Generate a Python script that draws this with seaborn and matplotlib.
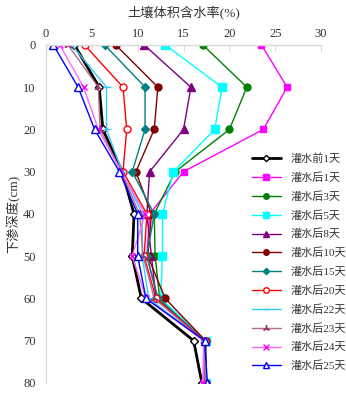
import matplotlib
matplotlib.use('Agg')
import matplotlib.pyplot as plt
import pandas as pd
import seaborn as sns

depth = [0, 10, 20, 30, 40, 50, 60, 70, 80]
labels = ['灌水前1天', '灌水后1天', '灌水后3天', '灌水后5天', '灌水后8天', '灌水后10天',
          '灌水后15天', '灌水后20天', '灌水后22天', '灌水后23天', '灌水后24天', '灌水后25天']

before_1 = [3.1, 5.8, 6.2, 8.3, 9.6, 9.4, 10.4, 16.1, 17.0]
after_1 = [23.5, 26.3, 23.7, 15.0, 11.3, 11.0, 12.2, 17.3, 17.2]
after_3 = [17.1, 21.9, 20.0, 14.1, 11.8, 11.9, 12.4, 17.4, 17.4]
after_5 = [13.0, 19.2, 18.4, 13.9, 12.7, 12.7, 12.5, 17.4, 17.5]
after_8 = [10.7, 15.8, 15.0, 11.3, 11.0, 11.5, 12.0, 17.3, 17.4]
after_10 = [7.6, 12.2, 11.8, 9.8, 11.5, 11.1, 13.0, 17.4, 17.5]
after_15 = [6.4, 10.8, 10.8, 9.4, 11.8, 11.0, 12.2, 17.3, 17.4]
after_20 = [4.2, 8.4, 8.8, 8.4, 11.0, 10.7, 12.0, 17.3, 17.5]
after_22 = [2.8, 6.6, 6.6, 8.3, 10.5, 10.5, 11.2, 17.2, 17.5]
after_23 = [2.4, 5.7, 5.9, 8.2, 10.2, 10.6, 11.8, 17.2, 17.4]
after_24 = [1.5, 4.1, 5.7, 8.2, 10.8, 9.4, 10.9, 17.2, 17.1]
after_25 = [0.8, 3.5, 5.3, 8.0, 10.0, 10.0, 10.9, 17.3, 17.6]

series = [before_1, after_1, after_3, after_5, after_8, after_10,
          after_15, after_20, after_22, after_23, after_24, after_25]

# line colour, marker colour, marker, face, marker size, line width
styles = [
    ('black', 'black', 'D', 'white', 4, 2.0),
    ('#FF00FF', '#FF00FF', 's', '#FF00FF', 5, 1.0),
    ('#008000', '#008000', 'o', '#008000', 5, 1.0),
    ('#00FFFF', '#00FFFF', 's', '#00FFFF', 5.5, 1.0),
    ('#800080', '#800080', '^', '#800080', 5.5, 1.0),
    ('#800000', '#800000', 'o', '#800000', 5, 1.0),
    ('#008080', '#008080', 'D', '#008080', 4, 1.0),
    ('#FF0000', '#FF0000', 'o', 'white', 5, 1.0),
    ('#33CCFF', '#33CCFF', '_', '#33CCFF', 6, 1.0),
    ('#B0708F', '#993366', (3, 2, 0), '#993366', 6, 1.0),
    ('#FF66FF', '#FF00FF', 'x', '#FF00FF', 5, 1.0),
    ('#0000FF', '#0000FF', '^', 'white', 5.5, 1.0),
]

sns.set_style('white')
plt.rcParams['font.family'] = ['Liberation Serif', 'Noto Sans CJK SC']

fig = plt.figure(figsize=(3.46, 3.94), dpi=100)
ax = fig.add_axes([0.133, 0.028, 0.795, 0.858])

for lab, vals, st in zip(labels, series, styles):
    lc, mc, mk, fc, ms, lw = st
    df = pd.DataFrame({'x': vals, 'y': depth})
    sns.lineplot(data=df, x='x', y='y', sort=False, estimator=None, ax=ax,
                 color=lc, lw=lw, marker=mk, markersize=ms, markeredgecolor=mc,
                 markerfacecolor=fc, markeredgewidth=1.0, label=lab)

ax.set_xlim(0, 30)
ax.set_ylim(80, 0)
ax.set_xticks(range(0, 31, 5))
ax.set_yticks(range(0, 81, 10))
ax.xaxis.tick_top()
ax.xaxis.set_label_position('top')
ax.set_xlabel('土壤体积含水率(%)', fontsize=9.5, color='#333333', labelpad=8)
ax.set_ylabel('下渗深度(cm)', fontsize=9.5, color='#333333', labelpad=2)
ax.tick_params(axis='both', labelsize=9, colors='#333333', length=4, color='#d9d9d9')
ax.tick_params(axis='x', direction='in')
for s in ['bottom', 'right']:
    ax.spines[s].set_visible(False)
for s in ['top', 'left']:
    ax.spines[s].set_color('#d9d9d9')
    ax.spines[s].set_linewidth(1.0)

leg = ax.legend(loc='upper left', bbox_to_anchor=(0.715, 0.622), bbox_transform=fig.transFigure,
                frameon=False, fontsize=8, handlelength=2.6, labelspacing=0.74,
                handletextpad=0.9, borderaxespad=0, markerscale=0.8)
for t in leg.get_texts():
    t.set_color('#333333')

fig.savefig('out.png', dpi=100)
